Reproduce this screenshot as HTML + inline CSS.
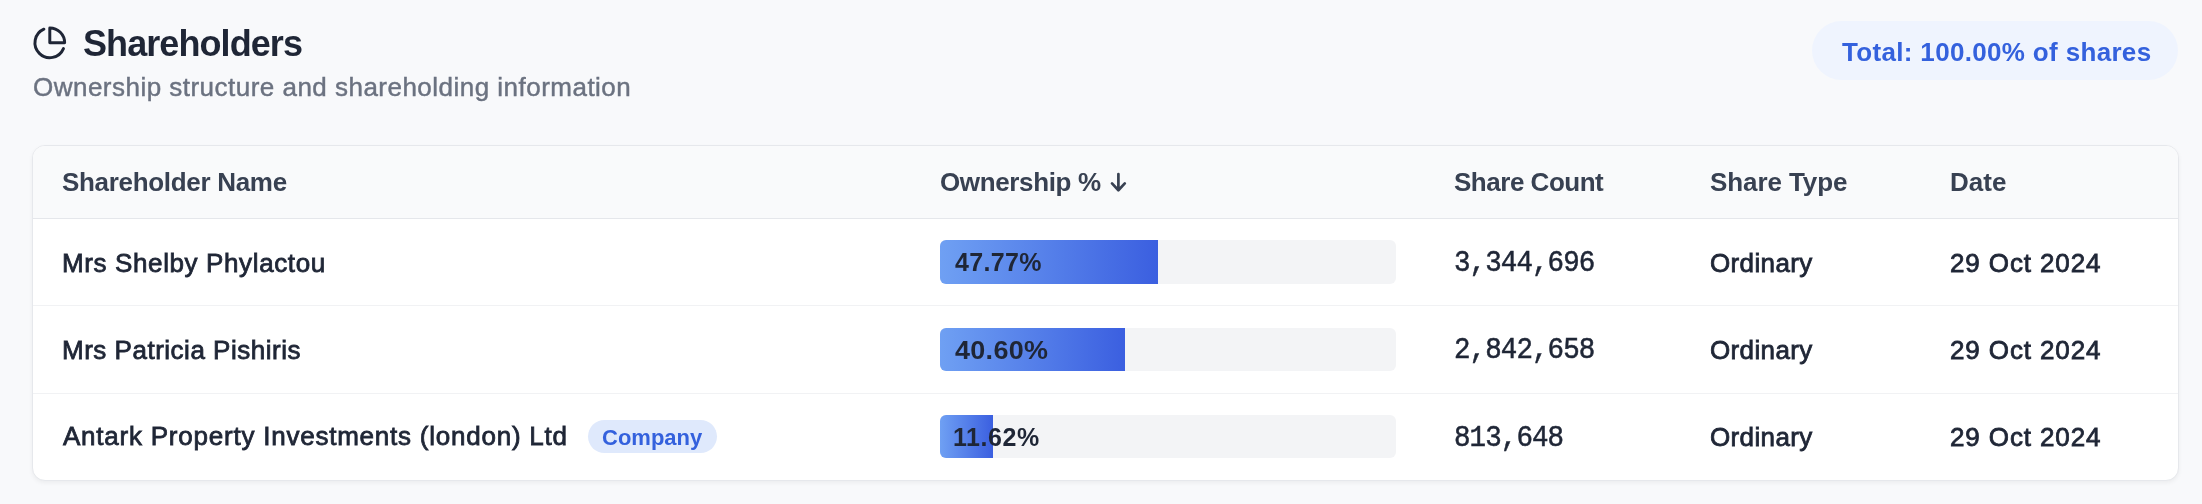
<!DOCTYPE html>
<html>
<head>
<meta charset="utf-8">
<title>Shareholders</title>
<style>
  html, body { margin: 0; padding: 0; }
  body {
    width: 2202px; height: 504px; overflow: hidden; position: relative;
    background: #f8f9fb;
    font-family: "Liberation Sans", sans-serif;
    color: #1f2636;
  }
  .t { position: absolute; white-space: nowrap; line-height: 1; margin: 0; will-change: transform; }
  #icon { position: absolute; left: 31.8px; top: 25.2px; width: 35.6px; height: 35.6px; }
  #title { left: 83px; top: 25.5px; font-size: 36px; font-weight: bold; color: #1f2636; letter-spacing: -0.92px; }
  #sub { left: 32.9px; top: 73.8px; font-size: 26px; color: #6b7280; letter-spacing: 0.48px; -webkit-text-stroke: 0.45px #6b7280; }
  #pill {
    position: absolute; left: 1812px; top: 21px; width: 366px; height: 59px;
    border-radius: 30px; background: #eff4fe;
  }
  #pilltxt { left: 1842px; top: 39px; font-size: 26px; letter-spacing: 0.33px; font-weight: bold; color: #3461dd; }

  #card {
    position: absolute; left: 32px; top: 145px; width: 2147px; height: 336px;
    box-sizing: border-box; border: 1px solid #e6e8ec; border-radius: 13px;
    background: #ffffff; overflow: hidden;
    box-shadow: 0 2px 4px rgba(0,0,0,0.05);
  }
  #head { position: absolute; left: 0; top: 0; right: 0; height: 72px; background: #f9fafb; border-bottom: 1px solid #e5e7eb; }
  .sep { position: absolute; left: 0; right: 0; height: 1px; background: #f1f2f4; }
  .h { font-size: 26px; font-weight: bold; color: #384152; letter-spacing: -0.36px; }
  .c { font-size: 26px; color: #1f2636; -webkit-text-stroke: 0.8px #1f2636; }
  .m { font-family: "Liberation Mono", monospace; font-size: 27.5px; letter-spacing: -0.9px; color: #1f2636; -webkit-text-stroke: 0.5px #1f2636; transform: scaleY(1.1); transform-origin: 0 76.7%; }
  .bar { position: absolute; left: 940px; width: 456px; height: 44px; border-radius: 6px; background: #f3f4f6; overflow: hidden; }
  .fill { position: absolute; left: 0; top: 0; bottom: 0; background: linear-gradient(90deg, #6fa0f3 0%, #3b5fe0 100%); }
  .p { font-size: 25px; font-weight: bold; color: #1f2636; }
  #badge { position: absolute; left: 588px; top: 420px; width: 129px; height: 33px; border-radius: 17px; background: #dfe9fc; }
  #badgetxt { font-size: 22px; font-weight: bold; color: #3461dd; }
</style>
</head>
<body>

<svg id="icon" viewBox="0 0 24 24" fill="none" stroke="#1f2636" stroke-width="2" stroke-linecap="round" stroke-linejoin="round">
  <path d="M21.21 15.89A10 10 0 1 1 8 2.83"/>
  <path d="M22 12A10 10 0 0 0 12 2v10z"/>
</svg>
<div class="t" id="title">Shareholders</div>
<div class="t" id="sub">Ownership structure and shareholding information</div>

<div id="pill"></div>
<div class="t" id="pilltxt">Total: 100.00% of shares</div>

<div id="card">
  <div id="head"></div>
  <div class="sep" style="top:159px"></div>
  <div class="sep" style="top:247px"></div>
</div>

<!-- header labels -->
<div class="t h" id="h1" style="left:62px; top:169px; letter-spacing:-0.31px">Shareholder Name</div>
<div class="t h" id="h2" style="left:940px; top:169px">Ownership %</div>
<svg id="arrow" style="position:absolute; left:1108px; top:170px; width:22px; height:24px" viewBox="0 0 22 24" fill="none" stroke="#384152" stroke-width="2.7" stroke-linecap="round" stroke-linejoin="round"><path d="M10.4 4v16.2M4 13.4l6.4 6.8 6.4-6.8"/></svg>
<div class="t h" id="h3" style="left:1454px; top:169px; letter-spacing:-0.48px">Share Count</div>
<div class="t h" id="h4" style="left:1710px; top:169px; letter-spacing:-0.09px">Share Type</div>
<div class="t h" id="h5" style="left:1950px; top:169px; letter-spacing:0px">Date</div>

<!-- row 1 -->
<div class="t c" id="n1" style="left:62.0px; top:249.7px; letter-spacing:0.62px">Mrs Shelby Phylactou</div>
<div class="bar" style="top:240px"><div class="fill" style="width:218px"></div></div>
<div class="t p" id="p1" style="left:955px; top:249.8px; letter-spacing:0.32px">47.77%</div>
<div class="t m" id="m1" style="left:1453.6px; top:250px">3,344,696</div>
<div class="t c" id="s1" style="left:1709.6px; top:249.7px; letter-spacing:0.36px">Ordinary</div>
<div class="t c" id="d1" style="left:1949.6px; top:249.7px; letter-spacing:0.88px">29 Oct 2024</div>

<!-- row 2 -->
<div class="t c" id="n2" style="left:62.0px; top:336.7px; letter-spacing:0.51px">Mrs Patricia Pishiris</div>
<div class="bar" style="top:328px; height:43px"><div class="fill" style="width:185px"></div></div>
<div class="t p" id="p2" style="left:955px; top:337.5px; letter-spacing:0.3px; transform:scaleX(1.078); transform-origin:0 50%">40.60%</div>
<div class="t m" id="m2" style="left:1453.6px; top:336.8px">2,842,658</div>
<div class="t c" id="s2" style="left:1709.6px; top:336.7px; letter-spacing:0.36px">Ordinary</div>
<div class="t c" id="d2" style="left:1949.6px; top:336.7px; letter-spacing:0.88px">29 Oct 2024</div>

<!-- row 3 -->
<div class="t c" id="n3" style="left:62.6px; top:422.6px; letter-spacing:0.77px">Antark Property Investments (london) Ltd</div>
<div id="badge"></div>
<div class="t" id="badgetxt" style="left:602px; top:426.6px">Company</div>
<div class="bar" style="top:415px; height:43px"><div class="fill" style="width:53px"></div></div>
<div class="t p" id="p3" style="left:953px; top:424.7px; letter-spacing:0.56px">11.62%</div>
<div class="t m" id="m3" style="left:1453.6px; top:424.8px">813,648</div>
<div class="t c" id="s3" style="left:1709.6px; top:424.4px; letter-spacing:0.36px">Ordinary</div>
<div class="t c" id="d3" style="left:1949.6px; top:424.4px; letter-spacing:0.88px">29 Oct 2024</div>

</body>
</html>
